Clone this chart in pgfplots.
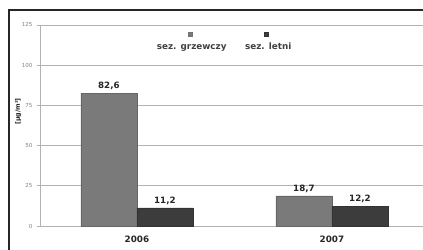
\documentclass[border=0pt]{standalone}
\usepackage{pgfplots}
\pgfplotsset{compat=1.18}
\usepackage{fontspec}
\setmainfont{DejaVu Sans}
\definecolor{cA}{RGB}{122,122,122}
\definecolor{cB}{RGB}{60,60,60}
\definecolor{gridc}{RGB}{178,178,178}
\begin{document}
\begin{tikzpicture}
\path[use as bounding box] (0pt,0pt) rectangle (423pt,249pt);
\begin{axis}[
 at={(40pt,23pt)}, anchor=south west, scale only axis,
 width=383pt, height=201pt,
 ymin=0, ymax=125, ytick={0,25,50,75,100,125},
 xmin=-0.497, xmax=1.467,
 xtick={0,1}, xticklabels={2006,2007},
 ybar=0pt, bar width=56pt,
 ymajorgrids, grid style={gridc, line width=0.8pt},
 axis x line*=bottom, axis y line*=left,
 axis line style={gridc, line width=0.8pt},
 tick align=outside, major tick length=3pt,
 ytick style={gridc, line width=0.6pt},
 xtick style={draw=none},
 yticklabel style={font=\fontsize{5.5}{6}\selectfont, text=black!50, xshift=-1pt, /pgf/number format/assume math mode=true},
 xticklabel style={font=\bfseries\fontsize{8.8}{10}\selectfont, text=black!85, yshift=-3pt},
 ylabel={[µg/m³]},
 ylabel style={font=\bfseries\fontsize{6.3}{7}\selectfont, text=black!85, at={(axis description cs:-0.057,0.57)}, anchor=center},
 nodes near coords={\pgfmathprintnumber[fixed,fixed zerofill,precision=1,use comma,assume math mode=true]{\pgfplotspointmeta}},
 every node near coord/.append style={font=\bfseries\fontsize{8.7}{10}\selectfont, text=black!85},
 legend columns=2,
 legend style={draw=none, fill=none, at={(axis description cs:0.48,0.895)}, anchor=center,
   font=\bfseries\fontsize{8.8}{10}\selectfont, text=black!75,
   nodes={text height=1.6ex, text depth=0.45ex},
   /tikz/every even column/.append style={column sep=14pt}},
]
\addplot[fill=cA, draw=black!60, line width=0.5pt,
  legend image code/.code={\path (0,0); \draw[overlay,fill=cA,draw=black!55,line width=0.4pt] (34pt,9.5pt) rectangle ++(4pt,4pt);}]
  coordinates {(0,82.6) (1,18.7)};
\addplot[fill=cB, draw=black!80, line width=0.5pt,
  legend image code/.code={\path (0,0); \draw[overlay,fill=cB,draw=black!80,line width=0.4pt] (21pt,9.5pt) rectangle ++(4pt,4pt);}]
  coordinates {(0,11.2) (1,12.2)};
\legend{sez. grzewczy, sez. letni}
\end{axis}
\draw[line width=2pt, black!85] (9pt,-5pt) -- (9pt,238.5pt) -- (430pt,238.5pt);
\end{tikzpicture}
\end{document}
